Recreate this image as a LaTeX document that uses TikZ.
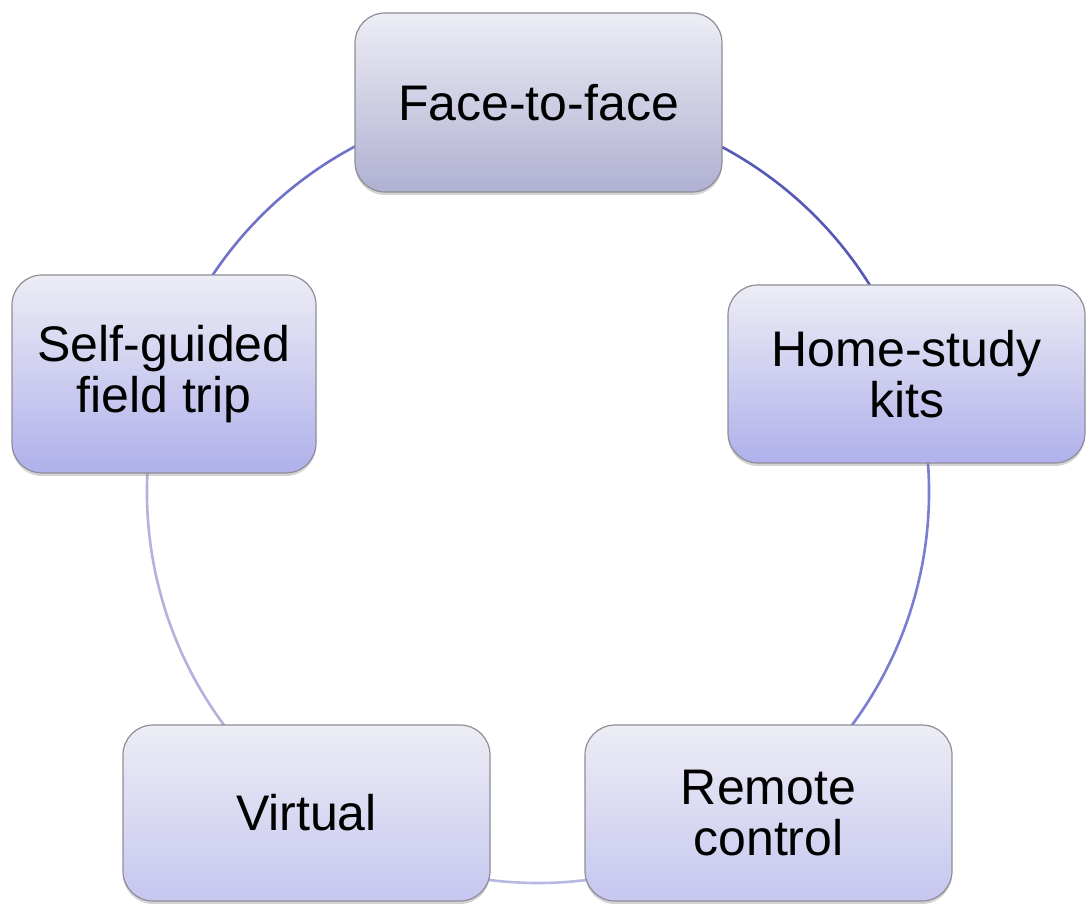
\documentclass[tikz,border=0pt]{standalone}
\usepackage{fontspec}
\setmainfont{Liberation Sans}
\usetikzlibrary{shadows}
\definecolor{arcdark}{HTML}{5558B5}
\definecolor{arcmid}{HTML}{7B7DD0}
\definecolor{arclight}{HTML}{B8B8E0}
\definecolor{boxtop}{HTML}{EDEDF5}
\definecolor{boxborder}{HTML}{8E8E98}
\tikzset{
  cbox/.style={draw=boxborder, line width=1.2pt, rounded corners=30pt,
    align=center, inner sep=0pt, font=\fontsize{50}{51}\selectfont,
    top color=boxtop,
    drop shadow={shadow xshift=0pt, shadow yshift=-3pt, opacity=0.35, fill=gray}},
  ringarc/.style={line width=2.6pt},
}
\begin{document}
\begin{tikzpicture}[x=1pt,y=1pt]
\useasboundingbox (0,0) rectangle (1086,903);
\coordinate (c) at (538,411);
\def\R{391}
% ring segments
\draw[ringarc, arcdark] ([shift={(90:\R)}]c) arc[start angle=90, end angle=18, radius=\R];
\draw[ringarc, arcmid] ([shift={(18:\R)}]c) arc[start angle=18, end angle=-54, radius=\R];
\draw[ringarc, arclight] ([shift={(-54:\R)}]c) arc[start angle=-54, end angle=-126, radius=\R];
\draw[ringarc, arclight!90!arcmid] ([shift={(-126:\R)}]c) arc[start angle=-126, end angle=-198, radius=\R];
\draw[ringarc, arcmid!70!arcdark] ([shift={(162:\R)}]c) arc[start angle=162, end angle=90, radius=\R];
% nodes
\node[cbox, bottom color={rgb,255:red,176;green,176;blue,210}, minimum width=367pt, minimum height=179pt] (face) at (538.5,800.5) {Face-to-face};
\node[cbox, bottom color={rgb,255:red,176;green,176;blue,236}, minimum width=357pt, minimum height=178pt] (home) at (906.5,529) {Home-study\\kits};
\node[cbox, bottom color={rgb,255:red,198;green,198;blue,240}, minimum width=367pt, minimum height=176pt] (remote) at (768.5,90) {Remote\\control};
\node[cbox, bottom color={rgb,255:red,198;green,198;blue,240}, minimum width=367pt, minimum height=176pt] (virtual) at (306.5,90) {Virtual};
\node[cbox, bottom color={rgb,255:red,176;green,176;blue,236}, minimum width=304pt, minimum height=198pt] (self) at (164,529) {Self-guided\\field trip};
\end{tikzpicture}
\end{document}
